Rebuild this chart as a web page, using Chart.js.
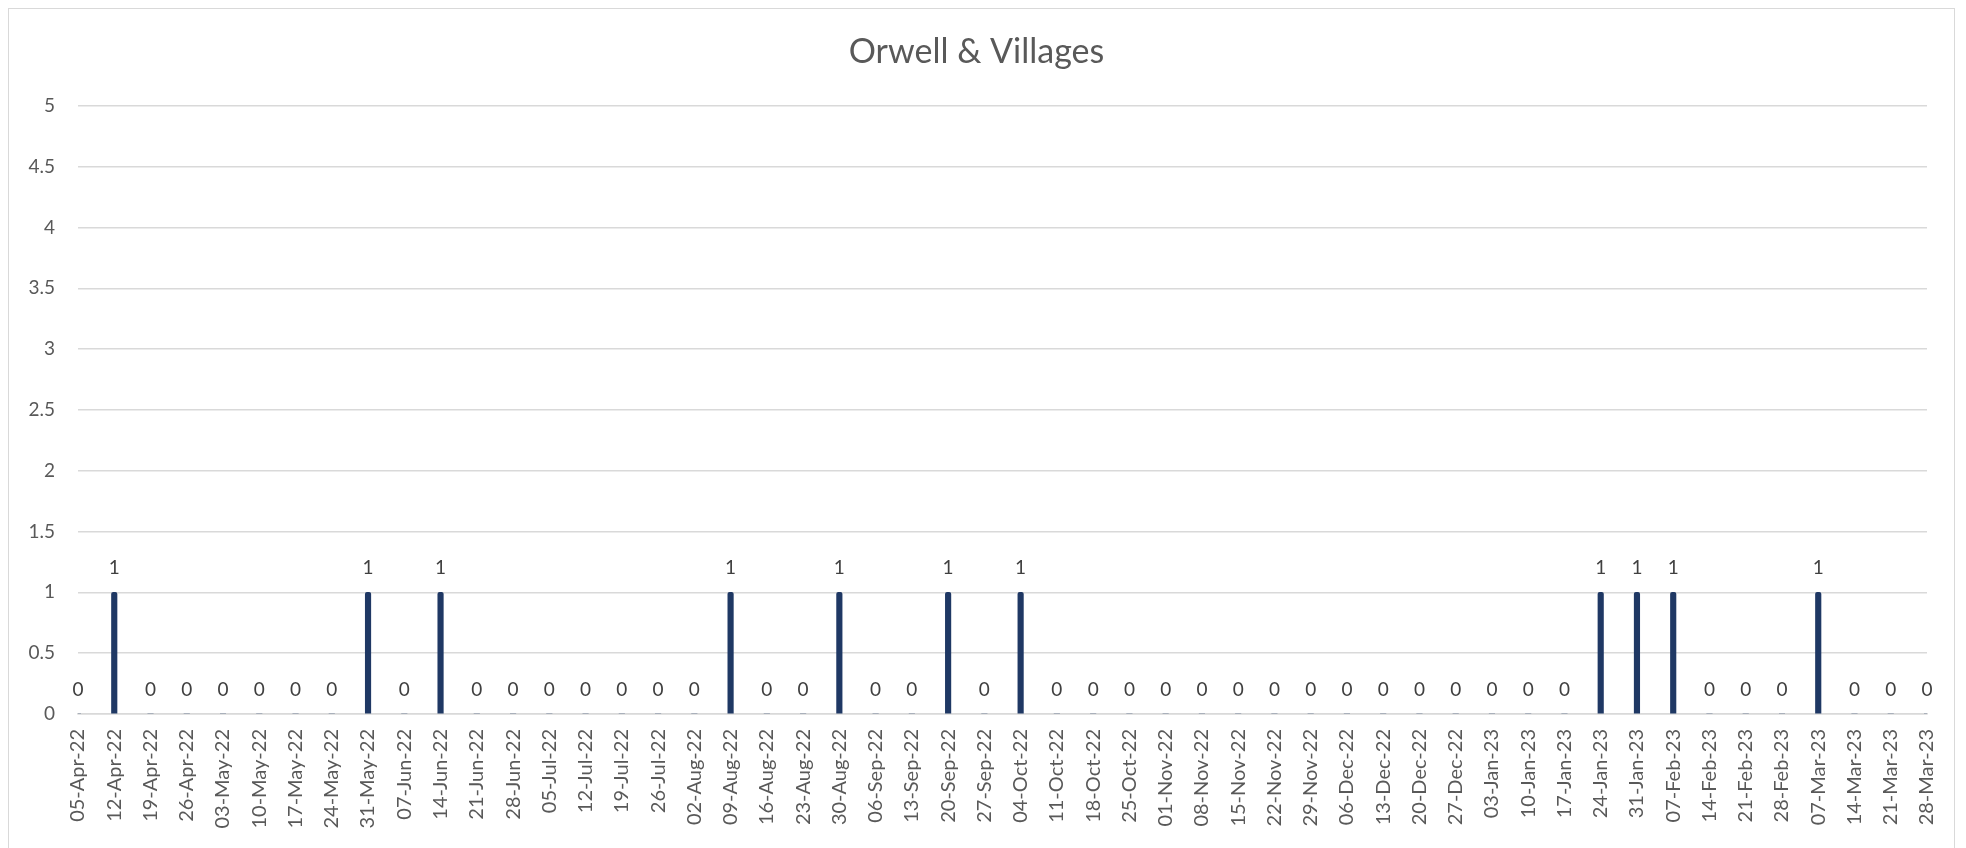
<!DOCTYPE html>
<html>
<head>
<meta charset="utf-8">
<script src="https://cdn.jsdelivr.net/npm/chart.js@4.4.0/dist/chart.umd.min.js"></script>
<style>
  html, body { margin: 0; padding: 0; background: #fff; overflow: hidden; }
  #box {
    position: absolute; left: 8px; top: 8px;
    width: 1947px; height: 860px;
    border: 1px solid #d9d9d9; box-sizing: border-box;
  }
  #wrap { position: absolute; left: 0; top: 0; width: 1957px; height: 845px; }
</style>
</head>
<body>
<div id="box"><div id="wrap"><canvas id="chart"></canvas></div></div>
<script>
// weeks
const weeks = [
  '05-Apr-22','12-Apr-22','19-Apr-22','26-Apr-22','03-May-22','10-May-22','17-May-22','24-May-22',
  '31-May-22','07-Jun-22','14-Jun-22','21-Jun-22','28-Jun-22','05-Jul-22','12-Jul-22','19-Jul-22',
  '26-Jul-22','02-Aug-22','09-Aug-22','16-Aug-22','23-Aug-22','30-Aug-22','06-Sep-22','13-Sep-22',
  '20-Sep-22','27-Sep-22','04-Oct-22','11-Oct-22','18-Oct-22','25-Oct-22','01-Nov-22','08-Nov-22',
  '15-Nov-22','22-Nov-22','29-Nov-22','06-Dec-22','13-Dec-22','20-Dec-22','27-Dec-22','03-Jan-23',
  '10-Jan-23','17-Jan-23','24-Jan-23','31-Jan-23','07-Feb-23','14-Feb-23','21-Feb-23','28-Feb-23',
  '07-Mar-23','14-Mar-23','21-Mar-23','28-Mar-23'
];

// counts per week
const counts = [
  0,1,0,0,0,0,0,0,
  1,0,1,0,0,0,0,0,
  0,0,1,0,0,1,0,0,
  1,0,1,0,0,0,0,0,
  0,0,0,0,0,0,0,0,
  0,0,1,1,1,0,0,0,
  1,0,0,0
];

const yTicks = [0, 0.5, 1, 1.5, 2, 2.5, 3, 3.5, 4, 4.5, 5];

const FONT = 'Lato, "Open Sans", sans-serif';

// draw value labels above each bar
const valueLabels = {
  id: 'valueLabels',
  afterDatasetsDraw(chart) {
    const ctx = chart.ctx;
    const meta = chart.getDatasetMeta(0);
    ctx.save();
    ctx.font = '19px ' + FONT;
    ctx.fillStyle = '#404040';
    ctx.textAlign = 'center';
    ctx.textBaseline = 'middle';
    meta.data.forEach((bar, i) => {
      ctx.fillText(String(counts[i]), bar.x, bar.y - 24);
    });
    ctx.restore();
  }
};

var ctx = document.getElementById('chart').getContext('2d');
var chart = new Chart(ctx, {
  type: 'bar',
  data: {
    labels: weeks,
    datasets: [{
      label: 'Orwell & Villages',
      data: counts,
      backgroundColor: '#1f3864',
      barThickness: 5.5,
      borderRadius: 2
    }]
  },
  options: {
    responsive: true,
    maintainAspectRatio: false,
    animation: false,
    layout: { padding: { left: 0, right: 22, top: 0, bottom: 0 } },
    plugins: {
      legend: { display: false },
      tooltip: { enabled: false },
      title: {
        display: true,
        text: 'Orwell & Villages',
        color: '#595959',
        font: { family: FONT, size: 34, weight: 'normal' },
        padding: { top: 23, bottom: 33 }
      }
    },
    scales: {
      x: {
        offset: false,
        grid: { display: false, drawTicks: false },
        border: { display: true, color: '#d9d9d9', width: 1.5 },
        ticks: {
          autoSkip: false,
          maxRotation: 90,
          minRotation: 90,
          padding: 15,
          color: '#595959',
          font: { family: FONT, size: 20 }
        },
        afterFit(scale) { scale.height = 140; }
      },
      y: {
        min: 0,
        max: 5,
        afterBuildTicks(scale) { scale.ticks = yTicks.map(v => ({ value: v })); },
        grid: { color: '#d9d9d9', lineWidth: 1.5, drawTicks: false },
        border: { display: false },
        ticks: {
          padding: 23,
          color: '#595959',
          font: { family: FONT, size: 19 },
          callback: (v) => String(v)
        },
        afterFit(scale) { scale.width = 69; }
      }
    }
  },
  plugins: [valueLabels]
});
</script>
</body>
</html>
